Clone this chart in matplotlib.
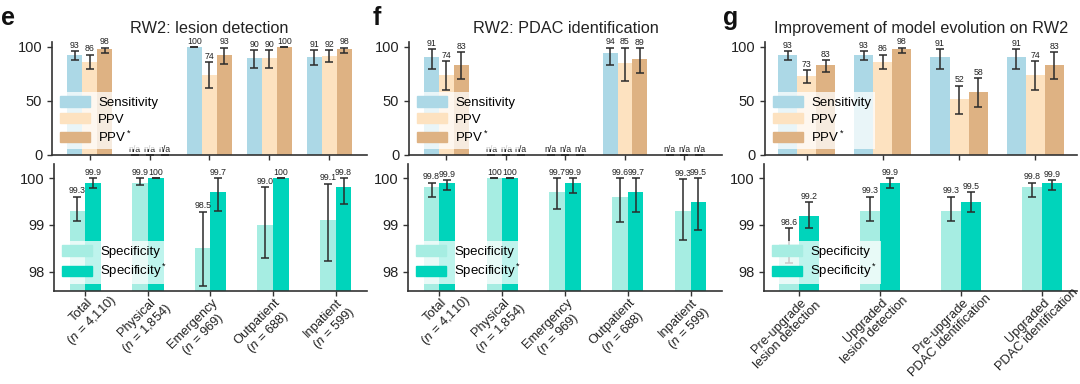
import numpy as np
import matplotlib.pyplot as plt
from matplotlib.patches import Patch
from matplotlib.transforms import ScaledTranslation

plt.rcParams['font.family'] = ['Liberation Sans', 'DejaVu Sans']
plt.rcParams['mathtext.fontset'] = 'custom'
plt.rcParams['mathtext.rm'] = 'Liberation Sans'
plt.rcParams['mathtext.it'] = 'Liberation Sans:italic'

nan = np.nan

# colours
c_sens = '#acd8e6'
c_ppv = '#fde2c0'
c_ppv2 = '#deb283'
c_spec = '#a6ede2'
c_spec2 = '#00d4bb'

# ---- panel e: lesion detection ----
e_cats = ['Total\n($n$ = 4,110)', 'Physical\n($n$ = 1,854)', 'Emergency\n($n$ = 969)',
          'Outpatient\n($n$ = 688)', 'Inpatient\n($n$ = 599)']
e_sens = [93, nan, 100, 90, 91]
e_sens_ci = [(88, 96), (nan, nan), (100, 100), (81, 97), (83, 97)]
e_ppv = [86, nan, 74, 90, 92]
e_ppv_ci = [(80, 93), (nan, nan), (62, 86), (81, 97), (86, 97)]
e_ppv2 = [98, nan, 93, 100, 98]
e_ppv2_ci = [(94, 99.5), (nan, nan), (84, 99.5), (100, 100), (94, 99.5)]
e_spec = [99.3, 99.9, 98.5, 99.0, 99.1]
e_spec_ci = [(99.08, 99.6), (99.85, 100), (97.71, 99.28), (98.3, 99.8), (98.24, 99.88)]
e_spec2 = [99.9, 100, 99.7, 100, 99.8]
e_spec2_ci = [(99.79, 100), (100, 100), (99.3, 100), (100, 100), (99.44, 100)]

# ---- panel f: PDAC identification ----
f_cats = e_cats
f_sens = [91, nan, nan, 94, nan]
f_sens_ci = [(80, 97.8), (nan, nan), (nan, nan), (83, 99.4), (nan, nan)]
f_ppv = [74, nan, nan, 85, nan]
f_ppv_ci = [(60, 87), (nan, nan), (nan, nan), (68.5, 99.4), (nan, nan)]
f_ppv2 = [83, nan, nan, 89, nan]
f_ppv2_ci = [(70, 95), (nan, nan), (nan, nan), (75.6, 98.8), (nan, nan)]
f_spec = [99.8, 100, 99.7, 99.6, 99.3]
f_spec_ci = [(99.6, 99.9), (100, 100), (99.34, 100), (99.06, 100), (98.67, 99.97)]
f_spec2 = [99.9, 100, 99.9, 99.7, 99.5]
f_spec2_ci = [(99.74, 99.96), (100, 100), (99.68, 100), (99.28, 100), (98.9, 100)]

# ---- panel g: model evolution ----
g_cats = ['Pre-upgrade\nlesion detection', 'Upgraded\nlesion detection',
          'Pre-upgrade\nPDAC identification', 'Upgraded\nPDAC identification']
g_sens = [93, 93, 91, 91]
g_sens_ci = [(88, 96), (88, 96), (80, 97.8), (80, 97.8)]
g_ppv = [73, 86, 52, 74]
g_ppv_ci = [(66.4, 78.7), (80, 93), (38, 64), (60, 87)]
g_ppv2 = [83, 98, 58, 83]
g_ppv2_ci = [(77, 88), (94, 99.5), (44, 71), (70, 95)]
g_spec = [98.6, 99.3, 99.3, 99.8]
g_spec_ci = [(98.19, 98.93), (99.08, 99.6), (99.08, 99.6), (99.6, 99.9)]
g_spec2 = [99.2, 99.9, 99.5, 99.9]
g_spec2_ci = [(98.93, 99.48), (99.79, 100), (99.27, 99.7), (99.74, 99.96)]

err_kw = dict(fmt='none', ecolor='#2b2b2b', elinewidth=1.1, capsize=3.2, capthick=1.1, zorder=3)
leg_kw = dict(loc='lower left', bbox_to_anchor=(0.0, 0.02), fontsize=9.5, frameon=True,
              framealpha=0.75, edgecolor='none', fancybox=False, handlelength=2.3,
              handleheight=0.8, labelspacing=0.3, borderaxespad=0.3, borderpad=0.3,
              handletextpad=0.6)


def style(ax):
    for s in ['top', 'right']:
        ax.spines[s].set_visible(False)
    for s in ['left', 'bottom']:
        ax.spines[s].set_color('#333333')
        ax.spines[s].set_linewidth(1.2)
    ax.tick_params(colors='#333333', labelcolor='#222222', labelsize=10.5, length=3.5, width=1)


def series(ax, x, vals, ci, color, top):
    vals = np.array(vals, dtype=float)
    ax.bar(x, np.nan_to_num(vals), width=0.25, color=color, zorder=2)
    for xi, v, (lo, hi) in zip(x, vals, ci):
        if np.isnan(v):
            ax.errorbar(xi, 0, yerr=[[0], [0]], **err_kw)
            ax.annotate('n/a', (xi, 0), xytext=(0, 0.5), textcoords='offset points',
                        ha='center', va='bottom', fontsize=6.3, color='#222222')
            continue
        ax.errorbar(xi, v, yerr=[[v - lo], [hi - v]], **err_kw)
        if top:
            lab = f'{v:.0f}'
        else:
            lab = '100' if v == 100 else f'{v:.1f}'
        ax.annotate(lab, (xi, hi), xytext=(0, 1), textcoords='offset points',
                    ha='center', va='bottom', fontsize=6.3, color='#222222',
                    annotation_clip=False)


def xlabels(ax, cats, fs=9.3):
    # rotated two-line labels: first line ends at the tick, second line centred under it
    r = fig.canvas.get_renderer()
    for xi, lab in enumerate(cats):
        w = []
        for s in lab.split('\n'):
            t = ax.text(0, 0, s, fontsize=fs)
            w.append(t.get_window_extent(renderer=r).width)
            t.remove()
        sh = max(0.0, (w[1] - w[0]) / 2) * 0.7071
        ox, oy = 1 + sh, -6 + sh
        tr = ax.get_xaxis_transform() + ScaledTranslation(ox / fig.dpi, oy / fig.dpi,
                                                          fig.dpi_scale_trans)
        ax.text(xi, 0, lab, transform=tr, rotation=45, ha='right', va='top',
                rotation_mode='anchor', multialignment='center', fontsize=fs,
                linespacing=1.1, color='#222222')


def panel(pos_top, pos_bot, cats, sens, sens_ci, ppv, ppv_ci, ppv2, ppv2_ci,
          spec, spec_ci, spec2, spec2_ci, xl_top, xl_bot, title, letter, lx):
    x = np.arange(len(cats))
    ax1 = fig.add_axes(pos_top)
    series(ax1, x - 0.25, sens, sens_ci, c_sens, True)
    series(ax1, x, ppv, ppv_ci, c_ppv, True)
    series(ax1, x + 0.25, ppv2, ppv2_ci, c_ppv2, True)
    ax1.set_ylim(0, 105)
    ax1.set_yticks([0, 50, 100])
    ax1.set_xlim(*xl_top)
    ax1.set_xticks(x)
    ax1.set_xticklabels([])
    style(ax1)
    ax1.set_title(title, fontsize=11.7, pad=6, color='#222222')
    h = [Patch(color=c_sens, label='Sensitivity'), Patch(color=c_ppv, label='PPV'),
         Patch(color=c_ppv2, label='PPV$^*$')]
    leg = ax1.legend(handles=h, **leg_kw)
    leg.set_zorder(5)

    ax2 = fig.add_axes(pos_bot)
    series(ax2, x - 0.125, spec, spec_ci, c_spec, False)
    series(ax2, x + 0.125, spec2, spec2_ci, c_spec2, False)
    ax2.set_ylim(97.6, 100.3)
    ax2.set_yticks([98, 99, 100])
    ax2.set_xlim(*xl_bot)
    ax2.set_xticks(x)
    ax2.set_xticklabels([])
    style(ax2)
    xlabels(ax2, cats)
    h = [Patch(color=c_spec, label='Specificity'), Patch(color=c_spec2, label='Specificity$^*$')]
    leg = ax2.legend(handles=h, **leg_kw)
    leg.set_zorder(5)

    fig.text(lx, 0.935, letter, fontsize=18, fontweight='bold', va='baseline', color='#111111')


fig = plt.figure(figsize=(10.8, 3.84), dpi=100)

panel([0.0481, 0.5964, 0.2917, 0.2953], [0.050, 0.2430, 0.2898, 0.330], e_cats,
      e_sens, e_sens_ci, e_ppv, e_ppv_ci, e_ppv2, e_ppv2_ci,
      e_spec, e_spec_ci, e_spec2, e_spec2_ci, (-0.63, 4.63), (-0.5, 4.5),
      'RW2: lesion detection', 'e', 0.001)
panel([0.3787, 0.5964, 0.2898, 0.2953], [0.3778, 0.2430, 0.2907, 0.330], f_cats,
      f_sens, f_sens_ci, f_ppv, f_ppv_ci, f_ppv2, f_ppv2_ci,
      f_spec, f_spec_ci, f_spec2, f_spec2_ci, (-0.63, 4.63), (-0.5, 4.5),
      'RW2: PDAC identification', 'f', 0.345)
panel([0.7083, 0.5964, 0.2889, 0.2953], [0.7074, 0.2430, 0.2898, 0.330], g_cats,
      g_sens, g_sens_ci, g_ppv, g_ppv_ci, g_ppv2, g_ppv2_ci,
      g_spec, g_spec_ci, g_spec2, g_spec2_ci, (-0.55, 3.55), (-0.43, 3.43),
      'Improvement of model evolution on RW2', 'g', 0.669)

fig.savefig('out.png', dpi=100)
